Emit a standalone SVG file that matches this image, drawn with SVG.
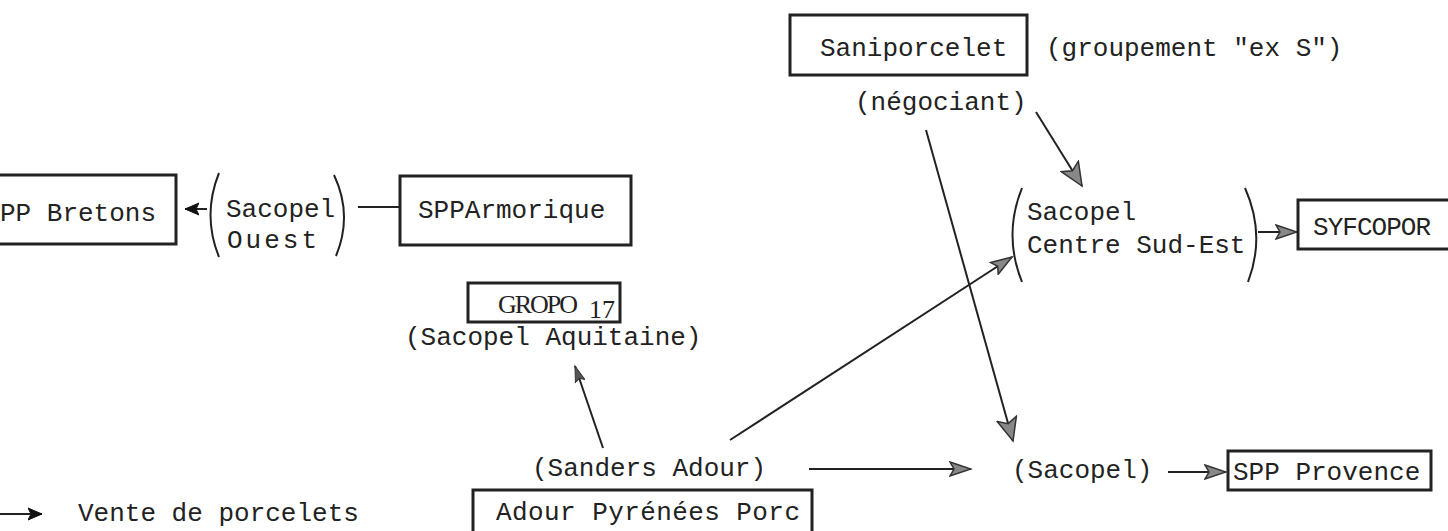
<svg xmlns="http://www.w3.org/2000/svg" width="1448" height="531" viewBox="0 0 1448 531">
<defs>
<style>
.t{font-family:"Liberation Mono","Courier New",monospace;font-size:26px;fill:#222}
.s{font-family:"Liberation Serif","Times New Roman",serif;font-size:26px;fill:#222}
.box{fill:none;stroke:#222;stroke-width:3}
.c{fill:none;stroke:#222;stroke-width:2}
.p{fill:none;stroke:#222;stroke-width:2}
</style>
<marker id="blk" markerUnits="userSpaceOnUse" markerWidth="16" markerHeight="14" refX="14" refY="7" orient="auto">
<path d="M0,1 L14,7 L0,13 L3,7 z" fill="#111" stroke="#111" stroke-width="1"/>
</marker>
<marker id="gry" markerUnits="userSpaceOnUse" markerWidth="24" markerHeight="16" refX="22" refY="8" orient="auto">
<path d="M1,1 L22,8 L1,15 L5,8 z" fill="#888" stroke="#333" stroke-width="1.5"/>
</marker>
<marker id="gryL" markerUnits="userSpaceOnUse" markerWidth="26" markerHeight="22" refX="24" refY="11" orient="auto">
<path d="M1,1 L24,11 L1,21 L6,11 z" fill="#888" stroke="#333" stroke-width="1.5"/>
</marker>
<marker id="dk" markerUnits="userSpaceOnUse" markerWidth="18" markerHeight="12" refX="16" refY="6" orient="auto">
<path d="M0,1 L16,6 L0,11 L3,6 z" fill="#555" stroke="#333" stroke-width="1"/>
</marker>
</defs>
<rect width="1448" height="531" fill="#fff"/>

<g id="connectors">
<path class="c" d="M207,209 L185,209" marker-end="url(#blk)"/>
<path class="c" d="M358,207 L399,207"/>
<path class="c" d="M603,448 L575,366" marker-end="url(#dk)"/>
<path class="c" d="M730,440 L1012,257" marker-end="url(#gry)"/>
<path class="c" d="M809,469 L971,469" marker-end="url(#gry)"/>
<path class="c" d="M1036,112 L1082,186" marker-end="url(#gryL)"/>
<path class="c" d="M926,130 L1013,441" marker-end="url(#gryL)"/>
<path class="c" d="M1258,232 L1297,232" marker-end="url(#gry)"/>
<path class="c" d="M1168,472 L1226,472" marker-end="url(#gry)"/>
<path class="c" d="M0,514 L42,514" stroke-width="3" marker-end="url(#blk)"/>
</g>

<g id="spp-bretons">
<rect class="box" x="-5" y="175" width="181" height="69"/>
<text class="t" x="0" y="221">PP Bretons</text>
</g>

<g id="sacopel-ouest">
<path class="p" d="M219,173 Q202,215 219,257"/>
<path class="p" d="M334,175 Q353,215 336,256"/>
<text class="t" x="226" y="217">Sacopel</text>
<text class="t" x="227" y="248" textLength="90">Ouest</text>
</g>

<g id="spp-armorique">
<rect class="box" x="400" y="176" width="231" height="69"/>
<text class="t" x="418" y="218">SPPArmorique</text>
</g>

<g id="gropo17">
<rect class="box" x="468" y="283" width="152" height="39"/>
<text class="s" x="498" y="313" textLength="80">GROPO</text>
<text class="s" x="589" y="318">17</text>
<text class="t" x="405" y="345">(Sacopel Aquitaine)</text>
</g>

<g id="saniporcelet">
<rect class="box" x="790" y="15" width="237" height="60"/>
<text class="t" x="820" y="56">Saniporcelet</text>
<text class="t" x="1046" y="56">(groupement "ex S")</text>
<text class="t" x="855" y="110">(négociant)</text>
</g>

<g id="sacopel-cse">
<path class="p" d="M1022,188 Q1003,235 1022,282"/>
<path class="p" d="M1245,188 Q1266,235 1248,282"/>
<text class="t" x="1027" y="220">Sacopel</text>
<text class="t" x="1027" y="253">Centre Sud-Est</text>
</g>

<g id="syfcopor">
<rect class="box" x="1298" y="200" width="160" height="49"/>
<text class="t" x="1313" y="235" textLength="118">SYFCOPOR</text>
</g>

<g id="sanders-adour">
<text class="t" x="532" y="476">(Sanders Adour)</text>
</g>

<g id="sacopel">
<text class="t" x="1012" y="478">(Sacopel)</text>
</g>

<g id="spp-provence">
<rect class="box" x="1228" y="451" width="203" height="39"/>
<text class="t" x="1233" y="480">SPP Provence</text>
</g>

<g id="adour-pyrenees-porc">
<rect class="box" x="473" y="490" width="339" height="60"/>
<text class="t" x="496" y="520" textLength="304">Adour Pyrénées Porc</text>
</g>

<g id="legend">
<text class="t" x="78" y="521">Vente de porcelets</text>
</g>
</svg>
